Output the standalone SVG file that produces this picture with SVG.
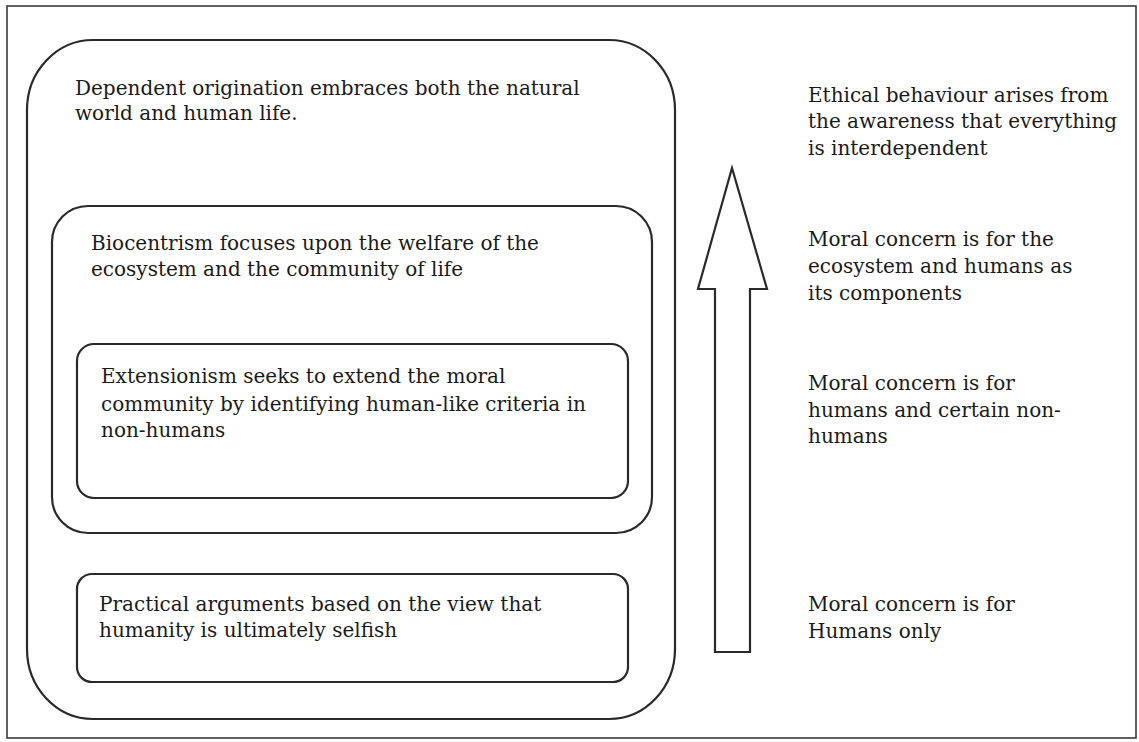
<svg xmlns="http://www.w3.org/2000/svg" width="1139" height="742" viewBox="0 0 1139 742">
<defs>
<style>
.box{fill:none;stroke:#2a2a2a;stroke-width:2.2}
.frame{fill:none;stroke:#3a3a3a;stroke-width:1.6}
.t{font-family:"DejaVu Serif","Liberation Serif",serif;font-size:20px;fill:#1a1a1a}
</style>
</defs>
<rect width="1139" height="742" fill="#ffffff"/>
<rect class="frame" x="7" y="6" width="1129" height="732"/>
<g id="dependent-origination">
<rect class="box" x="27" y="40" width="648" height="679" rx="66" ry="70"/>
<text class="t" x="75" y="95">Dependent origination embraces both the natural</text>
<text class="t" x="75" y="120">world and human life.</text>
</g>
<g id="biocentrism">
<rect class="box" x="52" y="206" width="600" height="327" rx="36" ry="36"/>
<text class="t" x="91" y="250">Biocentrism focuses upon the welfare of the</text>
<text class="t" x="91" y="276">ecosystem and the community of life</text>
</g>
<g id="extensionism">
<rect class="box" x="77" y="344" width="551" height="154" rx="17" ry="17"/>
<text class="t" x="101" y="383">Extensionism seeks to extend the moral</text>
<text class="t" x="101" y="411">community by identifying human-like criteria in</text>
<text class="t" x="101" y="437">non-humans</text>
</g>
<g id="practical">
<rect class="box" x="77" y="574" width="551" height="108" rx="15" ry="15"/>
<text class="t" x="99" y="611">Practical arguments based on the view that</text>
<text class="t" x="99" y="637">humanity is ultimately selfish</text>
</g>
<g id="connectors">
<path class="box" d="M715,652 L715,289 L698,289 L732,168 L767,289 L750,289 L750,652 Z"/>
</g>
<g id="level-interdependent">
<text class="t" x="808" y="102">Ethical behaviour arises from</text>
<text class="t" x="808" y="128">the awareness that everything</text>
<text class="t" x="808" y="155">is interdependent</text>
</g>
<g id="level-ecosystem">
<text class="t" x="808" y="246">Moral concern is for the</text>
<text class="t" x="808" y="273">ecosystem and humans as</text>
<text class="t" x="808" y="300">its components</text>
</g>
<g id="level-nonhumans">
<text class="t" x="808" y="390">Moral concern is for</text>
<text class="t" x="808" y="417">humans and certain non-</text>
<text class="t" x="808" y="443">humans</text>
</g>
<g id="level-humans">
<text class="t" x="808" y="611">Moral concern is for</text>
<text class="t" x="808" y="638">Humans only</text>
</g>
</svg>
